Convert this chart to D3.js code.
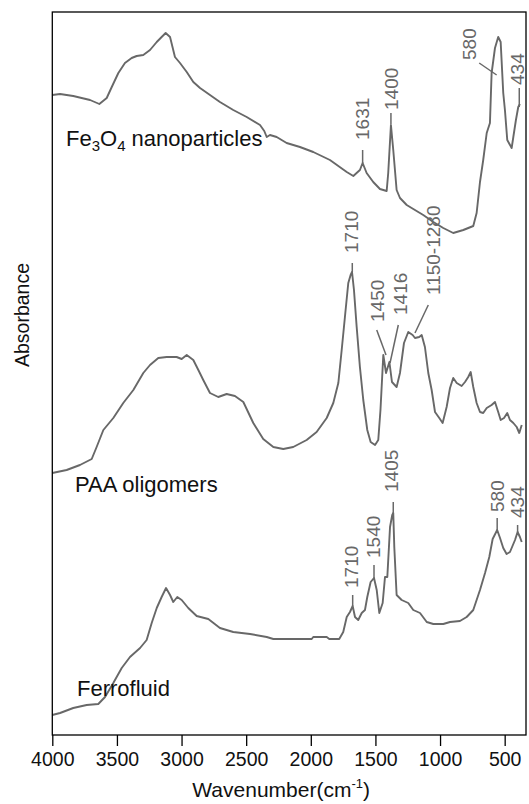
<!DOCTYPE html>
<html><head><meta charset="utf-8">
<script src="https://cdn.jsdelivr.net/npm/d3@7"></script>
<style>html,body{margin:0;padding:0;background:#fff;}svg{display:block;font-family:Arial,"Liberation Sans",sans-serif;}</style>
</head><body>
<svg id="c" width="529" height="804"></svg>
<script>
// Wavenumber (cm-1) and absorbance (arbitrary units, stacked as in the figure)
const fe3o4W = [4000,3940,3838,3708,3636,3579,3540,3489,3438,3386,3347,3296,3244,3192,3154,3123,3089,3051,3012,2960,2909,2857,2780,2703,2600,2496,2393,2360,2341,2316,2264,2187,2084,1981,1852,1722,1671,1620,1599,1568,1517,1465,1413,1401,1380,1362,1336,1310,1258,1207,1130,1052,975,898,820,743,717,691,666,639,614,601,575,550,531,511,498,480,446,433,413,395,382];
const fe3o4A = [640,641,639,635,631,637,648,662,672,677,679,680,685,693,698,702,698,678,672,663,653,647,640,633,625,618,610,604,598,600,598,592,588,583,575,563,559,565,572,562,553,546,544,562,610,585,545,537,530,526,520,513,507,502,505,509,522,553,575,602,612,662,687,698,693,642,625,595,587,598,615,628,631];

const paaW = [4000,3889,3786,3695,3657,3605,3528,3451,3373,3296,3244,3180,3115,3038,2999,2960,2909,2870,2832,2780,2716,2651,2587,2522,2445,2368,2290,2213,2136,2032,1955,1877,1826,1787,1761,1736,1710,1692,1681,1666,1645,1620,1594,1563,1537,1503,1478,1461,1439,1418,1392,1372,1336,1310,1279,1246,1212,1194,1161,1142,1117,1091,1065,1039,1006,980,949,923,898,871,833,807,782,763,743,717,691,666,639,601,575,550,531,505,480,459,433,407,387,368];
const paaA = [262,265,270,276,288,305,317,332,345,362,370,377,378,378,376,380,375,365,355,342,338,341,339,333,312,296,288,286,288,295,303,317,332,352,385,418,452,460,463,445,408,368,335,305,293,290,295,325,380,362,373,353,348,362,392,403,400,397,398,400,388,362,345,323,317,312,328,347,357,352,349,353,358,363,348,332,323,322,327,330,333,323,315,317,322,315,312,308,302,310];

const ffW = [4000,3940,3838,3734,3644,3592,3528,3463,3399,3321,3270,3231,3192,3154,3120,3089,3064,3033,2999,2948,2883,2793,2703,2600,2470,2341,2290,1993,1981,1877,1857,1780,1749,1722,1697,1676,1658,1633,1606,1581,1563,1537,1511,1490,1470,1444,1426,1408,1387,1370,1362,1354,1336,1297,1246,1207,1155,1103,1052,975,923,846,794,743,691,652,619,593,558,536,511,485,459,420,400,382,368];
const ffA = [20,22,27,30,31,38,52,67,78,87,95,112,127,138,147,140,133,138,135,127,119,116,107,103,101,98,96,96,98,98,96,96,103,118,123,129,118,115,122,125,138,153,157,145,122,132,158,158,208,220,222,188,140,135,132,125,122,113,111,111,113,114,118,125,145,162,178,196,205,197,187,181,183,195,203,198,193];

const seriesNames = ["Fe\u2083O\u2084 nanoparticles","PAA oligomers","Ferrofluid"];
const xTicks = [4000,3500,3000,2500,2000,1500,1000,500];

// peak annotations: label, text wavenumber, text bottom absorbance, leader (w1,a1)->(w2,a2)
const peakLabels = ["1631","1400","580","434","1710","1450","1416","1150-1280","1710","1540","1405","580","434"];
const peakTextW  = [1606,1380,774,407,1684,1490,1310,1052,1684,1517,1375,556,402];
const peakTextA  = [595,625,675,650,482,413,420,440,147,177,243,223,217];
const peakLineW1 = [1599,1380,697,387,1679,1490,1323,1091,1676,1511,1362,558,400];
const peakLineA1 = [585,622,672,647,472,405,410,430,140,170,233,217,210];
const peakLineW2 = [1599,1380,562,387,1679,1418,1387,1194,1676,1511,1362,558,400];
const peakLineA2 = [572,611,660,628,463,380,372,402,129,157,222,205,203];

const svg = d3.select("#c");
const L = 52.3, R = 526, T = 12, B = 735;
const x = d3.scaleLinear().domain([4000, 335]).range([L, R]);
const y = d3.scaleLinear().domain([0, 723]).range([B, T]);

const lineGen = d3.line().x(d => x(d[0])).y(d => y(d[1]));
const curveColor = "#686868";
[[fe3o4W, fe3o4A],[paaW, paaA],[ffW, ffA]].forEach(([w, a]) => {
  svg.append("path").datum(w.map((v,i)=>[v,a[i]]))
    .attr("d", lineGen).attr("fill","none").attr("stroke",curveColor)
    .attr("stroke-width",1.9).attr("stroke-linejoin","round");
});

// frame
svg.append("rect").attr("x",L).attr("y",T).attr("width",R-L).attr("height",B-T)
  .attr("fill","none").attr("stroke","#000").attr("stroke-width",1.3);

// x axis
const ax = svg.append("g").attr("transform",`translate(0,${B})`)
  .call(d3.axisBottom(x).tickValues(xTicks).tickSizeInner(11).tickSizeOuter(0).tickPadding(6).tickFormat(d3.format("d")));
ax.select(".domain").remove();
ax.selectAll(".tick line").attr("stroke","#000").attr("stroke-width",1.3);
ax.selectAll(".tick text").attr("font-size","19.5px").attr("fill","#111").attr("font-family","Arial, 'Liberation Sans', sans-serif");

// axis titles
const xt = svg.append("text").attr("x",(L+R)/2 - 8).attr("y",797).attr("text-anchor","middle")
  .attr("font-size","21px").attr("fill","#111");
xt.append("tspan").text("Wavenumber(cm");
xt.append("tspan").attr("font-size","13px").attr("dy",-9).text("-1");
xt.append("tspan").attr("dy",9).text(")");

svg.append("text").attr("transform","translate(29,315) rotate(-90)").attr("text-anchor","middle")
  .attr("font-size","19.5px").attr("fill","#111").text("Absorbance");

// series labels
const lab1 = svg.append("text").attr("x",66).attr("y",146).attr("font-size","22px").attr("fill","#111");
lab1.append("tspan").text("Fe");
lab1.append("tspan").attr("font-size","15px").attr("dy",5).text("3");
lab1.append("tspan").attr("dy",-5).text("O");
lab1.append("tspan").attr("font-size","15px").attr("dy",5).text("4");
lab1.append("tspan").attr("dy",-5).text(" nanoparticles");
svg.append("text").attr("x",75).attr("y",492).attr("font-size","22px").attr("fill","#111").text(seriesNames[1]);
svg.append("text").attr("x",77).attr("y",696).attr("font-size","22px").attr("fill","#111").text(seriesNames[2]);

// peak annotations
const annColor = "#686868";
peakLabels.forEach((t,i) => {
  svg.append("line").attr("x1",x(peakLineW1[i])).attr("y1",y(peakLineA1[i]))
    .attr("x2",x(peakLineW2[i])).attr("y2",y(peakLineA2[i]))
    .attr("stroke",annColor).attr("stroke-width",1.5);
  svg.append("text").attr("transform",`translate(${x(peakTextW[i])},${y(peakTextA[i])}) rotate(-90)`)
    .attr("dy","0.36em").attr("text-anchor","start").attr("font-size","19px").attr("fill",annColor).text(t);
});
</script>
</body></html>
